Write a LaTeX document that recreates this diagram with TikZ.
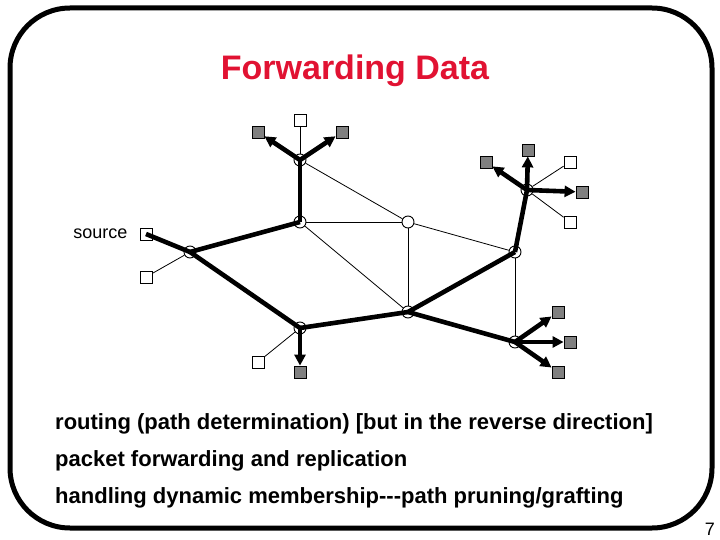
\documentclass[tikz,border=0pt]{standalone}
\usepackage{fontspec}
\setmainfont{Liberation Sans}
\usepackage{tikz}
\usetikzlibrary{arrows.meta,positioning}
\definecolor{titlered}{RGB}{225,18,50}
\definecolor{member}{RGB}{128,128,128}

\begin{document}
\begin{tikzpicture}[
  x=1pt, y=-1pt,
  router/.style={circle, draw, fill=white, line width=0.9pt, minimum size=12pt, inner sep=0pt},
  host/.style={rectangle, draw, fill=white, line width=0.8pt, minimum size=12pt, inner sep=0pt},
  memb/.style={host, fill=member},
  link/.style={line width=0.8pt},
  tree/.style={line width=4.6pt},
  fwd/.style={line width=4.6pt, -{Triangle[length=11pt,width=11pt]}},
  bullet/.style={font=\bfseries\fontsize{22}{26}\selectfont, anchor=west, inner sep=0pt}
]
\useasboundingbox (0,0) rectangle (720,540);
\draw[line width=5pt, rounded corners=60pt] (10,8) rectangle (712,528);

\node[text=titlered, font=\bfseries\fontsize{34}{40}\selectfont] (title) at (355,71) {Forwarding Data};

% routers
\node[router] (r1) at (300,160) {};
\node[router] (r2) at (300,222) {};
\node[router] (r3) at (408,222) {};
\node[router] (r4) at (190,252) {};
\node[router] (r5) at (515,252) {};
\node[router] (r6) at (527,190) {};
\node[router] (r7) at (300,328) {};
\node[router] (r8) at (408,312) {};
\node[router] (r9) at (515,342) {};

% hosts
\node[host] (src) at (146,234) {};
\node[left=12pt of src, font=\fontsize{18}{20}\selectfont, inner sep=0pt] (srclabel) {source};
\node[host] (h1) at (300,120) {};
\node[memb] (m1) at (258,132) {};
\node[memb] (m2) at (342,132) {};
\node[host] (h2) at (146,277) {};
\node[memb] (m3) at (486,162) {};
\node[memb] (m4) at (528,150) {};
\node[host] (h3) at (570,162) {};
\node[memb] (m5) at (582,192) {};
\node[host] (h4) at (570,222) {};
\node[host] (h5) at (258,362) {};
\node[memb] (m6) at (300,372) {};
\node[memb] (m7) at (558,312) {};
\node[memb] (m8) at (570,342) {};
\node[memb] (m9) at (558,372) {};

% plain links
\draw[link] (r1) -- (h1);
\draw[link] (r1) -- (r3);
\draw[link] (r2) -- (r3);
\draw[link] (r2) -- (r8);
\draw[link] (r3) -- (r8);
\draw[link] (r3) -- (r5);
\draw[link] (r5) -- (r9);
\draw[link] (r4) -- (h2);
\draw[link] (r7) -- (h5);
\draw[link] (r6) -- (h3);
\draw[link] (r6) -- (h4);

% distribution tree
\draw[tree] (src.center) -- (r4.center);
\draw[tree] (r4.center) -- (r2.center);
\draw[tree] (r2.center) -- (r1.center);
\draw[tree] (r4.center) -- (r7.center);
\draw[tree] (r7.center) -- (r8.center);
\draw[tree] (r8.center) -- (r5.center);
\draw[tree] (r5.center) -- (r6.center);
\draw[tree] (r8.center) -- (r9.center);

% forwarding to members
\draw[fwd] (r1.center) -- (m1);
\draw[fwd] (r1.center) -- (m2);
\draw[fwd] (r6.center) -- (m3);
\draw[fwd] (r6.center) -- (m4);
\draw[fwd] (r6.center) -- (m5);
\draw[fwd] (r7.center) -- (m6);
\draw[fwd] (r9.center) -- (m7);
\draw[fwd] (r9.center) -- (m8);
\draw[fwd] (r9.center) -- (m9);

% bullet text
\node[bullet] (b1) at (55,424) {routing (path determination) [but in the reverse direction]};
\node[bullet] (b2) at (55,461) {packet forwarding and replication};
\node[bullet] (b3) at (55,498) {handling dynamic membership-{}-{}-path pruning/grafting};

\node[font=\fontsize{18}{20}\selectfont, anchor=south east, inner sep=0pt] (pagenum) at (715,536) {7};
\end{tikzpicture}
\end{document}
